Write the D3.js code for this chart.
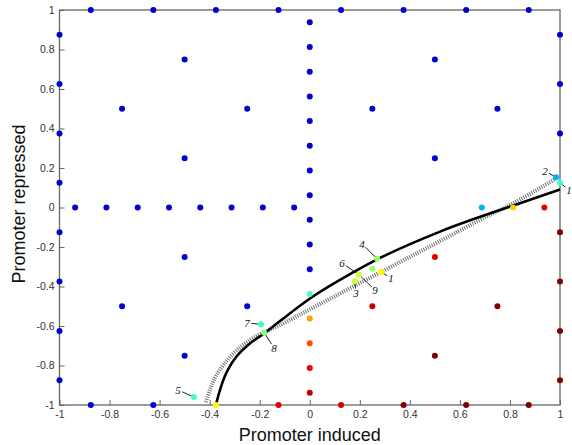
<!DOCTYPE html>
<html>
<head>
<meta charset="utf-8">
<script src="https://cdn.jsdelivr.net/npm/d3@7"></script>
<style>
  body { margin: 0; background: #fff; }
  svg { display: block; font-family: "Liberation Sans", Arial, Helvetica, sans-serif; }
</style>
</head>
<body>
<div id="chart"></div>
<script>
// 刻度
const xTicks = [-1, -0.8, -0.6, -0.4, -0.2, 0, 0.2, 0.4, 0.6, 0.8, 1];
const yTicks = [-1, -0.8, -0.6, -0.4, -0.2, 0, 0.2, 0.4, 0.6, 0.8, 1];

// 点: [x, y, v]   v = position on the jet colormap (0 blue ... 1 dark red)
const topEdge = [
    [-0.875, 1, 0.075], [-0.625, 1, 0.075], [-0.375, 1, 0.075], [-0.125, 1, 0.075],
    [0.125, 1, 0.075], [0.375, 1, 0.075], [0.625, 1, 0.075], [0.875, 1, 0.075],
];
const leftEdge = [
    [-1, 0.875, 0.075], [-1, 0.625, 0.075], [-1, 0.375, 0.075], [-1, 0.125, 0.075],
    [-1, -0.125, 0.075], [-1, -0.375, 0.075], [-1, -0.625, 0.075], [-1, -0.875, 0.075],
];
const rightEdge = [
    [1, 0.875, 0.075], [1, 0.625, 0.075], [1, 0.375, 0.075], [1, 0.125, 0.43],
    [1, -0.125, 1], [1, -0.375, 1], [1, -0.625, 1], [1, -0.875, 1],
];
const bottomEdge = [
    [-0.875, -1, 0.075], [-0.625, -1, 0.075], [-0.375, -1, 0.63], [-0.125, -1, 0.9],
    [0.125, -1, 0.92], [0.375, -1, 1], [0.625, -1, 1], [0.875, -1, 1],
];
const centreColumn = [
    [0, 0.9375, 0.075], [0, 0.8125, 0.075], [0, 0.6875, 0.075], [0, 0.5625, 0.075],
    [0, 0.4375, 0.075], [0, 0.3125, 0.075], [0, 0.1875, 0.075], [0, 0.0625, 0.075],
    [0, -0.0625, 0.075], [0, -0.1875, 0.075], [0, -0.3125, 0.075], [0, -0.4375, 0.44],
    [0, -0.5625, 0.72], [0, -0.6875, 0.8], [0, -0.8125, 0.89], [0, -0.9375, 0.94],
];
const centreRow = [
    [-0.9375, 0, 0.075], [-0.8125, 0, 0.075], [-0.6875, 0, 0.075], [-0.5625, 0, 0.075],
    [-0.4375, 0, 0.075], [-0.3125, 0, 0.075], [-0.1875, 0, 0.075], [-0.0625, 0, 0.075],
    [0.6875, 0, 0.3], [0.8125, 0, 0.67], [0.9375, 0, 0.9],
];
const quadrantPoints = [
    [-0.75, 0.5, 0.075], [-0.5, 0.75, 0.075], [-0.5, 0.25, 0.075], [-0.25, 0.5, 0.075],
    [0.25, 0.5, 0.075], [0.5, 0.75, 0.075], [0.5, 0.25, 0.075], [0.75, 0.5, 0.075],
    [-0.75, -0.5, 0.075], [-0.5, -0.25, 0.075], [-0.5, -0.75, 0.075], [-0.25, -0.5, 0.075],
    [0.25, -0.5, 0.93], [0.5, -0.25, 0.91], [0.5, -0.75, 1], [0.75, -0.5, 1],
];
const markedPoints = [
    [0.984, 0.153, 0.3], [0.269, -0.259, 0.53], [0.25, -0.31, 0.53], [0.196, -0.340, 0.57],
    [0.18, -0.374, 0.57], [0.285, -0.327, 0.63], [-0.195, -0.591, 0.43],
    [-0.182, -0.634, 0.5], [-0.463, -0.96, 0.44],
];

// 标注: [text, label x, label y, point x, point y]
const annotations = [
    ['4', 0.209, -0.185, 0.269, -0.259],
    ['6', 0.129, -0.281, 0.196, -0.340],
    ['9', 0.261, -0.418, 0.196, -0.340],
    ['3', 0.185, -0.433, 0.18, -0.374],
    ['1', 0.325, -0.357, 0.285, -0.327],
    ['2', 0.940, 0.185, 0.984, 0.153],
    ['1', 1.036, 0.089, 1, 0.125],
    ['7', -0.251, -0.585, -0.195, -0.591],
    ['8', -0.143, -0.711, -0.182, -0.634],
    ['5', -0.526, -0.924, -0.463, -0.96],
];

// 曲线
const solidCurve = [
    [-0.375, -1], [-0.367, -0.96], [-0.355, -0.909], [-0.339, -0.853], [-0.319, -0.803],
    [-0.291, -0.752], [-0.251, -0.701], [-0.183, -0.638], [-0.119, -0.575], [0.001, -0.461],
    [0.173, -0.329], [0.269, -0.263], [0.521, -0.122], [0.808, 0.008], [1, 0.091],
];
const dottedCurve = [
    [-0.415, -0.985], [-0.399, -0.924], [-0.379, -0.863], [-0.351, -0.808], [-0.311, -0.747],
    [-0.239, -0.671], [-0.119, -0.595], [0.041, -0.489], [0.201, -0.382], [0.361, -0.276],
    [0.521, -0.170], [0.680, -0.063], [0.808, 0.018], [0.980, 0.144],
];

const width = 572, height = 445;
const x = d3.scaleLinear().domain([-1, 1]).range([59.5, 560]);
const y = d3.scaleLinear().domain([-1, 1]).range([405, 10]);
const jet = d3.scaleLinear()
    .domain([0, 0.125, 0.375, 0.625, 0.875, 1])
    .range(['#00008f', '#0000ff', '#00ffff', '#ffff00', '#ff0000', '#800000'])
    .clamp(true);
const fmt = (d) => String(+d.toFixed(1));

const svg = d3.select('#chart').append('svg')
    .attr('width', width)
    .attr('height', height);

// 坐标轴
const xAxis = svg.append('g')
    .attr('transform', `translate(0,${y(-1)})`)
    .call(d3.axisBottom(x).tickValues(xTicks).tickFormat(fmt).tickSize(-5).tickPadding(6));
const yAxis = svg.append('g')
    .attr('transform', `translate(${x(-1)},0)`)
    .call(d3.axisLeft(y).tickValues(yTicks).tickFormat(fmt).tickSize(-5).tickPadding(5));
[xAxis, yAxis].forEach((g) => {
    g.select('.domain').remove();
    g.selectAll('.tick line').attr('stroke', '#666');
    g.selectAll('.tick text').attr('fill', '#333').style('font-size', '10.5px');
});

// 边框
svg.append('rect')
    .attr('x', x(-1))
    .attr('y', y(1))
    .attr('width', x(1) - x(-1))
    .attr('height', y(-1) - y(1))
    .attr('fill', 'none')
    .attr('stroke', '#666')
    .attr('stroke-width', 1.3);

// 曲线
const line = d3.line()
    .x((d) => x(d[0]))
    .y((d) => y(d[1]))
    .curve(d3.curveMonotoneX);
svg.append('path')
    .datum(dottedCurve)
    .attr('d', line)
    .attr('fill', 'none')
    .attr('stroke', '#707070')
    .attr('stroke-width', 4)
    .attr('stroke-dasharray', '1,1.3');
svg.append('path')
    .datum(solidCurve)
    .attr('d', line)
    .attr('fill', 'none')
    .attr('stroke', '#000')
    .attr('stroke-width', 2.6);

// 标注线
const leader = svg.append('g');
annotations.forEach((a) => {
    const lx = x(a[1]), ly = y(a[2]), px = x(a[3]), py = y(a[4]);
    const len = Math.hypot(px - lx, py - ly);
    const ux = (px - lx) / len, uy = (py - ly) / len;
    leader.append('line')
        .attr('x1', lx + ux * 4.5)
        .attr('y1', ly + uy * 4.5)
        .attr('x2', px)
        .attr('y2', py)
        .attr('stroke', '#222')
        .attr('stroke-width', 1);
    leader.append('text')
        .attr('x', lx)
        .attr('y', ly)
        .attr('text-anchor', 'middle')
        .attr('dy', '0.35em')
        .style('font-family', '"Liberation Serif", "Times New Roman", serif')
        .style('font-style', 'italic')
        .style('font-size', '11px')
        .attr('fill', '#111')
        .text(a[0]);
});

// 点
const allPoints = [].concat(topEdge, leftEdge, rightEdge, bottomEdge,
    centreColumn, centreRow, quadrantPoints, markedPoints);
svg.append('g')
    .selectAll('circle')
    .data(allPoints)
    .enter()
    .append('circle')
    .attr('cx', (d) => x(d[0]))
    .attr('cy', (d) => y(d[1]))
    .attr('r', 3)
    .attr('fill', (d) => jet(d[2]));

// 轴标题
svg.append('text')
    .attr('x', (x(-1) + x(1)) / 2)
    .attr('y', 441)
    .attr('text-anchor', 'middle')
    .style('font-size', '18px')
    .attr('fill', '#111')
    .text('Promoter induced');
svg.append('text')
    .attr('transform', `translate(25,204) rotate(-90)`)
    .attr('text-anchor', 'middle')
    .style('font-size', '18px')
    .attr('fill', '#111')
    .text('Promoter repressed');
</script>
</body>
</html>
